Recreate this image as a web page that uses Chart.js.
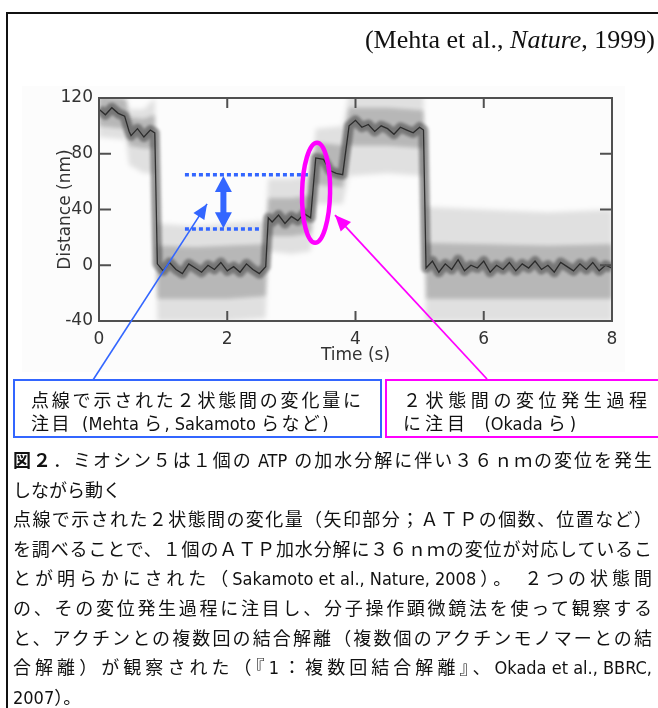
<!DOCTYPE html>
<html lang="ja">
<head>
<meta charset="utf-8">
<title>ミオシン5の変位</title>
<script src="https://cdn.jsdelivr.net/npm/chart.js@4/dist/chart.umd.min.js"></script>
<style>
  html, body { margin: 0; padding: 0; background: #fff; }
  #page { position: relative; width: 658px; height: 708px; overflow: hidden; background: #fff; }
  .figbg { position: absolute; left: 22px; top: 86px; width: 603px; height: 286px; background: #fcfcfc; }
  #plot { position: absolute; left: 0; top: 0; }
  .frame-top { position: absolute; left: 6px; top: 12px; width: 660px; height: 2px; background: #111; }
  .frame-left { position: absolute; left: 6px; top: 12px; width: 2px; height: 700px; background: #111; }
  .cite { position: absolute; right: 3px; top: 25px; line-height: 30px; white-space: nowrap;
          font-family: "Liberation Serif", "Times New Roman", serif; font-size: 26px; color: #111; }
  .jp { font-family: "DejaVu Sans Condensed", "Noto Sans CJK JP", sans-serif; color: #111; white-space: nowrap; }
  .lat { letter-spacing: 0; }
  .word { display: inline-block; letter-spacing: 0; }
  .full { text-align: justify; text-align-last: justify; }
  .box { position: absolute; box-sizing: border-box; height: 59px; top: 379px;
         padding: 8px 0 0 16px; font-size: 18px; line-height: 23px; }
  .box.blue { left: 13px; width: 369px; border: 2px solid #3366ff; }
  .box.pink { left: 385px; width: 300px; border: 2px solid #ff00ff; }
  .box.blue .full { width: 330px; }
  .box.pink .full { width: 244px; }
  .box.blue .rest { letter-spacing: 2.4px; }
  .box.pink .rest { letter-spacing: 4px; }
  .caption { position: absolute; left: 13px; top: 446px; font-size: 18px; line-height: 29.6px; }
  .caption .full { width: 639px; }
  .caption b { font-weight: bold; }
</style>
</head>
<body>
<div id="page">
  <div class="figbg"></div>
  <canvas id="plot" width="658" height="708"></canvas>
  <div class="frame-top"></div>
  <div class="frame-left"></div>
  <div class="cite">(Mehta et al., <i>Nature</i>, 1999)</div>
  <div class="box blue jp">
    <div class="full">点線で示された２状態間の変化量に</div>
    <div class="rest">注目<span class="lat">&nbsp; (Mehta </span>ら<span class="lat">, Sakamoto </span>らなど<span class="lat">)</span></div>
  </div>
  <div class="box pink jp">
    <div class="full">２状態間の変位発生過程</div>
    <div class="rest">に注目<span class="lat">&nbsp;&nbsp; (Okada </span>ら<span class="lat">)</span></div>
  </div>
  <div class="caption jp">
    <div class="full"><b>図２</b>．ミオシン５は１個の<span class="word">&nbsp;ATP&nbsp;</span>の加水分解に伴い３６ｎｍの変位を発生</div>
    <div>しながら動く</div>
    <div class="full">点線で示された２状態間の変化量（矢印部分；ＡＴＰの個数、位置など）</div>
    <div class="full">を調べることで、１個のＡＴＰ加水分解に３６ｎｍの変位が対応しているこ</div>
    <div class="full">とが明らかにされた（<span class="word">Sakamoto et al., Nature, 2008</span>）。 ２つの状態間</div>
    <div class="full">の、その変位発生過程に注目し、分子操作顕微鏡法を使って観察する</div>
    <div class="full">と、アクチンとの複数回の結合解離（複数個のアクチンモノマーとの結</div>
    <div class="full">合解離）が観察された（『<span class="word">1</span>：複数回結合解離』、<span class="word">Okada et al., BBRC,</span></div>
    <div>2007）。</div>
  </div>
</div>
<script>
// Bead position trace: sample times (s) and the dark centre of the record (nm)
const traceTime = [0, 0.1, 0.2, 0.3, 0.4, 0.47, 0.5, 0.6, 0.7, 0.8, 0.87,
  0.91, 1.0, 1.1, 1.2, 1.3, 1.4, 1.5, 1.6, 1.7, 1.8, 1.9, 2.0, 2.1, 2.2, 2.3, 2.4, 2.5, 2.6,
  2.64, 2.7, 2.8, 2.9, 3.0, 3.1, 3.2, 3.3,
  3.38, 3.5, 3.6, 3.7, 3.8,
  3.9, 4.0, 4.1, 4.2, 4.3, 4.4, 4.5, 4.6, 4.7, 4.8, 4.9, 5.0, 5.06,
  5.1, 5.2, 5.3, 5.4, 5.5, 5.6, 5.7, 5.8, 5.9, 6.0, 6.1, 6.2, 6.3, 6.4, 6.5, 6.6, 6.7, 6.8, 6.9,
  7.0, 7.1, 7.2, 7.3, 7.4, 7.5, 7.6, 7.7, 7.8, 7.9, 8.0];
const traceDistance = [112, 108, 113, 109, 107, 96, 93, 98, 92, 97, 95,
  1, -4, 2, -3, -6, 1, -2, -5, 0, -3, 2, -4, -1, -5, 1, -3, -6, -1,
  34, 31, 36, 30, 35, 32, 37, 34,
  77, 76, 68, 66, 65,
  100, 104, 99, 101, 96, 100, 98, 94, 99, 97, 95, 99, 97,
  -2, 3, -5, 1, -3, 4, -4, 0, -2, 3, -5, 0, -3, 2, -4, 1, -2, 3, -3,
  0, -5, 2, -1, -4, 1, -3, 2, -4, 0, -2];

// Spread of the raw points around the trace (nm): faint outer cloud and denser inner cloud
const spreadTime = [0, 0.42, 0.47, 0.7, 0.87, 0.91, 1.5, 2.0, 2.6, 2.64, 3.0, 3.3, 3.38, 3.8, 3.9, 4.5, 5.06, 5.1, 6.0, 7.0, 8.0];
const outerHigh  = [125, 123, 112, 112, 120, 30, 28, 30, 32, 62, 62, 64, 98, 100, 124, 124, 122, 42, 40, 38, 40];
const outerLow   = [92, 90, 72, 66, 66, -40, -40, -40, -38, 10, 8, 10, 44, 44, 64, 66, 64, -40, -40, -40, -40];
const innerHigh  = [121, 119, 106, 105, 108, 14, 13, 14, 15, 48, 48, 50, 88, 86, 113, 113, 111, 16, 15, 14, 15];
const innerLow   = [100, 98, 86, 84, 84, -24, -24, -24, -22, 21, 21, 23, 58, 56, 86, 86, 84, -24, -24, -24, -24];

// Dotted reference levels for the two states (nm) and their time spans (s)
const stateLevels = [65, 26];
const stateStart = [1.34, 1.34];
const stateEnd = [3.26, 2.53];

// Axis ticks
const timeTicks = [0, 2, 4, 6, 8];
const distanceTicks = [-40, 0, 40, 80, 120];

// Annotation anchors in data units
const stepArrow = { t: 1.94, from: 64, to: 26.5 };
const transitionMark = { t: 3.385, d: 52 };
const bluePointer = { t: 1.685, d: 44 };
const pinkPointer = { t: 3.68, d: 36 };

const BLUE = '#3366ff';
const PINK = '#ff00ff';

const pts = (xs, ys) => xs.map((x, i) => ({ x, y: ys[i] }));

// Per-dataset softening so the point cloud reads as a haze
const softenPlugin = {
  id: 'soften',
  beforeDatasetDraw(chart, args) {
    const ds = chart.data.datasets[args.index];
    chart.ctx.save();
    chart.ctx.filter = ds.soft ? `blur(${ds.soft}px)` : 'none';
  },
  afterDatasetDraw(chart) {
    chart.ctx.restore();
  }
};
const filler = Chart.registry.plugins.get('filler');
Chart.unregister(filler);
Chart.register(softenPlugin);
Chart.register(filler);

// Closed frame with inward tick marks on all four sides
const framePlugin = {
  id: 'frame',
  afterDatasetsDraw(chart) {
    const { ctx, chartArea: a, scales: { x, y } } = chart;
    ctx.save();
    ctx.strokeStyle = '#505050';
    ctx.lineWidth = 2;
    ctx.strokeRect(a.left, a.top, a.right - a.left, a.bottom - a.top);
    ctx.beginPath();
    timeTicks.forEach(v => {
      const px = x.getPixelForValue(v);
      ctx.moveTo(px, a.bottom); ctx.lineTo(px, a.bottom - 10);
      ctx.moveTo(px, a.top); ctx.lineTo(px, a.top + 10);
    });
    distanceTicks.forEach(v => {
      const py = y.getPixelForValue(v);
      ctx.moveTo(a.left, py); ctx.lineTo(a.left + 12, py);
      ctx.moveTo(a.right, py); ctx.lineTo(a.right - 12, py);
    });
    ctx.stroke();
    ctx.restore();
  }
};

function arrowHead(ctx, x0, y0, x1, y1, len, half) {
  const ang = Math.atan2(y1 - y0, x1 - x0);
  ctx.beginPath();
  ctx.moveTo(x1, y1);
  ctx.lineTo(x1 - len * Math.cos(ang) + half * Math.sin(ang), y1 - len * Math.sin(ang) - half * Math.cos(ang));
  ctx.lineTo(x1 - len * Math.cos(ang) - half * Math.sin(ang), y1 - len * Math.sin(ang) + half * Math.cos(ang));
  ctx.closePath();
  ctx.fill();
}

// Step arrow, transition ellipse and pointers to the explanation boxes
const notesPlugin = {
  id: 'notes',
  afterDraw(chart) {
    const { ctx, scales: { x, y } } = chart;
    ctx.save();

    // double-headed arrow between the two dotted levels
    const ax = x.getPixelForValue(stepArrow.t);
    const ay0 = y.getPixelForValue(stepArrow.from);
    const ay1 = y.getPixelForValue(stepArrow.to);
    ctx.fillStyle = BLUE;
    ctx.fillRect(ax - 3, ay0 + 12, 6, ay1 - ay0 - 24);
    arrowHead(ctx, ax, ay1, ax, ay0, 16, 8.5);
    arrowHead(ctx, ax, ay0, ax, ay1, 16, 8.5);

    // pointer from the left box
    const bx = x.getPixelForValue(bluePointer.t), by = y.getPixelForValue(bluePointer.d);
    ctx.strokeStyle = BLUE;
    ctx.lineWidth = 1.6;
    ctx.beginPath(); ctx.moveTo(93, 380); ctx.lineTo(bx, by); ctx.stroke();
    arrowHead(ctx, 93, 380, bx, by, 15, 6.5);

    // ellipse around the transition
    const ex = x.getPixelForValue(transitionMark.t), ey = y.getPixelForValue(transitionMark.d);
    ctx.strokeStyle = PINK;
    ctx.lineWidth = 4.5;
    ctx.beginPath(); ctx.ellipse(ex, ey, 14, 50, 0.02, 0, Math.PI * 2); ctx.stroke();

    // pointer from the right box
    const px = x.getPixelForValue(pinkPointer.t), py = y.getPixelForValue(pinkPointer.d);
    ctx.fillStyle = PINK;
    ctx.lineWidth = 1.8;
    ctx.beginPath(); ctx.moveTo(487, 379); ctx.lineTo(px, py); ctx.stroke();
    arrowHead(ctx, 487, 379, px, py, 16, 7);

    ctx.restore();
  }
};

const tickFont = { family: 'DejaVu Sans', size: 17 };

new Chart(document.getElementById('plot'), {
  type: 'line',
  data: {
    datasets: [
      { data: pts(stateStart.slice(0, 1).concat(stateEnd.slice(0, 1)), [stateLevels[0], stateLevels[0]]),
        borderColor: BLUE, borderWidth: 3.5, borderDash: [4, 3], pointRadius: 0, fill: false },
      { data: pts(stateStart.slice(1, 2).concat(stateEnd.slice(1, 2)), [stateLevels[1], stateLevels[1]]),
        borderColor: BLUE, borderWidth: 3.5, borderDash: [4, 3], pointRadius: 0, fill: false },
      { data: pts(traceTime, traceDistance), borderColor: 'rgba(30,30,30,0.85)', borderWidth: 1.3,
        pointRadius: 0, fill: false, soft: 0.5 },
      { data: pts(traceTime, traceDistance), borderColor: 'rgba(20,20,20,0.4)', borderWidth: 10,
        borderJoinStyle: 'round', pointRadius: 0, fill: false, soft: 1.8 },
      { data: pts(spreadTime, innerHigh), borderWidth: 0, pointRadius: 0,
        backgroundColor: 'rgba(0,0,0,0.19)', fill: '+1', soft: 2 },
      { data: pts(spreadTime, innerLow), borderWidth: 0, pointRadius: 0, fill: false },
      { data: pts(spreadTime, outerHigh), borderWidth: 0, pointRadius: 0,
        backgroundColor: 'rgba(0,0,0,0.11)', fill: '+1', soft: 2.5 },
      { data: pts(spreadTime, outerLow), borderWidth: 0, pointRadius: 0, fill: false }
    ]
  },
  options: {
    responsive: false,
    animation: false,
    events: [],
    layout: { padding: { left: 50, top: 98, right: 46, bottom: 340 } },
    plugins: { legend: { display: false }, tooltip: { enabled: false } },
    scales: {
      x: {
        type: 'linear', min: 0, max: 8,
        afterFit: s => { s.height = 47; },
        afterBuildTicks: s => { s.ticks = timeTicks.map(v => ({ value: v })); },
        grid: { display: false, drawTicks: false },
        border: { display: false },
        ticks: { font: tickFont, color: '#333', padding: 8 },
        title: { display: true, text: 'Time (s)', font: tickFont, color: '#333', padding: { top: 0, bottom: 2 } }
      },
      y: {
        type: 'linear', min: -40, max: 120,
        afterFit: s => { s.width = 49; },
        afterBuildTicks: s => { s.ticks = distanceTicks.map(v => ({ value: v })); },
        grid: { display: false, drawTicks: false },
        border: { display: false },
        ticks: { font: tickFont, color: '#333', padding: 6 },
        title: { display: true, text: 'Distance (nm)', font: tickFont, color: '#333', padding: { top: 5, bottom: 0 } }
      }
    }
  },
  plugins: [framePlugin, notesPlugin]
});
</script>
</body>
</html>
